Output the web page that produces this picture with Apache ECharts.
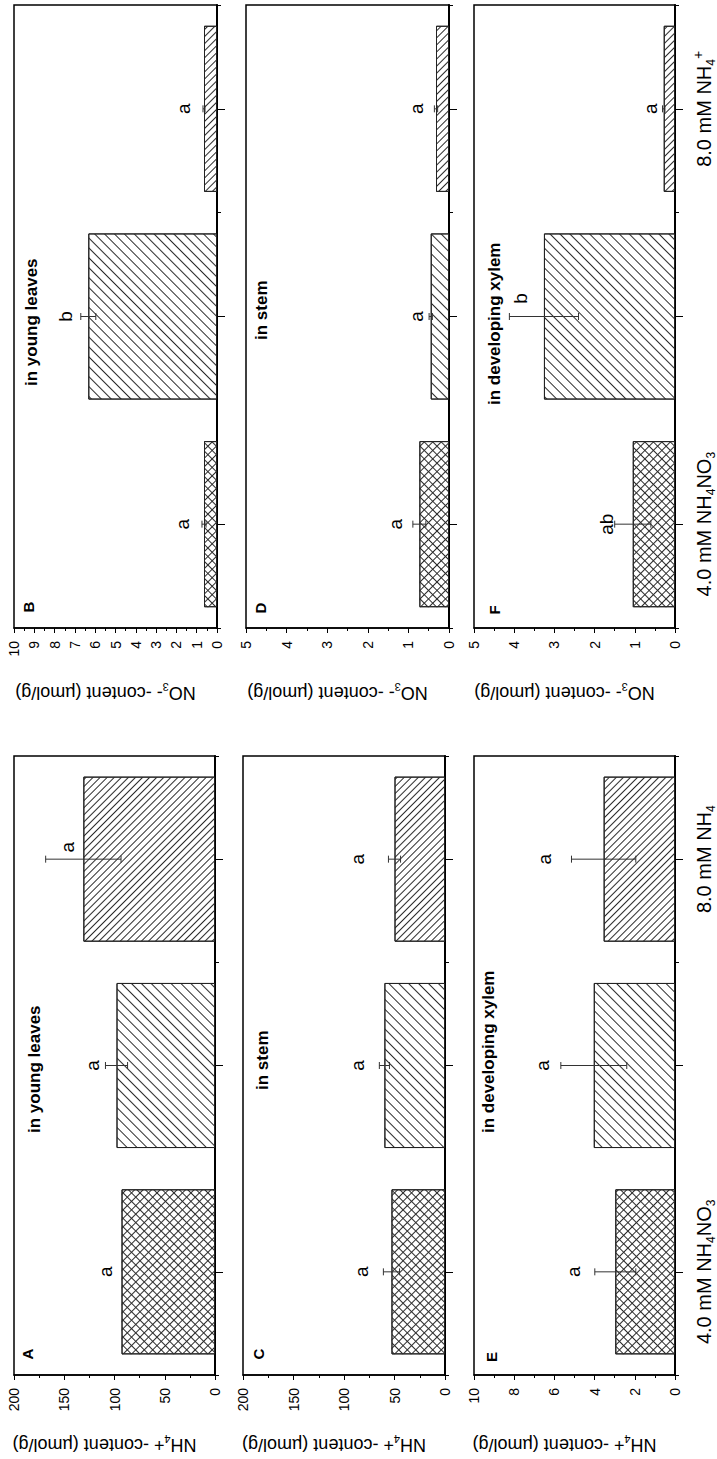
<!DOCTYPE html>
<html>
<head>
<meta charset="utf-8">
<script src="https://cdn.jsdelivr.net/npm/echarts@6/dist/echarts.min.js"></script>
<style>
  html, body { margin: 0; padding: 0; background: #fff; }
  #chart { width: 717px; height: 1459px; }
</style>
</head>
<body>
<div id="chart"></div>
<script>
// ---- data ----------------------------------------------------------------
const treatments = ['4.0 mM NH4NO3', '8.0 mM NO3-', '8.0 mM NH4+'];

// NO3- content (µmol/g)
const no3Leaves    = [0.64, 6.34, 0.64];
const no3LeavesErr = [0.10, 0.37, 0.05];
const no3Stem      = [0.73, 0.45, 0.32];
const no3StemErr   = [0.16, 0.04, 0.04];
const no3Xylem     = [1.05, 3.26, 0.28];
const no3XylemErr  = [0.45, 0.86, 0.03];

// NH4+ content (µmol/g)
const nh4Leaves    = [93, 98, 131];
const nh4LeavesErr = [0, 11, 37.5];
const nh4Stem      = [53, 60, 50];
const nh4StemErr   = [8, 5, 6];
const nh4Xylem     = [2.97, 4.04, 3.55];
const nh4XylemErr  = [1.02, 1.64, 1.60];

// significance groups
const no3LeavesSig = ['a', 'b', 'a'];
const no3StemSig   = ['a', 'a', 'a'];
const no3XylemSig  = ['ab', 'b', 'a'];
const nh4LeavesSig = ['a', 'a', 'a'];
const nh4StemSig   = ['a', 'a', 'a'];
const nh4XylemSig  = ['a', 'a', 'a'];

// value axis ranges and tick steps
const no3AxisMax  = [10, 5, 5];
const no3AxisStep = [1, 1, 1];
const nh4AxisMax  = [200, 200, 10];
const nh4AxisStep = [50, 50, 2];

// treatment tick labels (rich text: s = subscript, p = superscript)
const no3TreatmentLabels = ['4.0 mM NH{s|4}NO{s|3}', '8.0 mM NO{s|3}{p|-}', '8.0 mM NH{s|4}{p|+}'];
const nh4TreatmentLabels = ['4.0 mM NH{s|4}NO{s|3}', '8.0 mM NO{s|3}', '8.0 mM NH{s|4}'];

// ---- look & layout -------------------------------------------------------
const FONT = '"Liberation Sans", Arial, Helvetica, sans-serif';
const INK = '#000';
const HATCH = '#2b2b2b';

function hatch(angle, period) {
  return {
    symbol: 'rect', symbolSize: 1,
    dashArrayX: [1, 0], dashArrayY: [1, period - 1],
    rotation: angle, color: HATCH
  };
}
const hatchNO3 = hatch(Math.PI / 4, 7);    // "\" lines
const hatchNH4 = hatch(-Math.PI / 4, 5);   // "/" lines
const crossOne = hatch(Math.PI / 4, 6);
const crossTwo = hatch(-Math.PI / 4, 6);
const barDecals = [crossOne, hatchNO3, hatchNH4];

const panels = [
  { grid: { left: 14,  top: 5,   width: 203, height: 623 }, values: no3Leaves, errs: no3LeavesErr, sig: no3LeavesSig,
    max: no3AxisMax[0], step: no3AxisStep[0], kind: 'no3', letter: 'B', title: 'in young leaves',
    titleAt: [31, 386], letterAt: [28, 607], sigAt: [[1.70, 0], [7.45, 0], [1.67, 0]], cats: false },
  { grid: { left: 246, top: 5,   width: 203, height: 623 }, values: no3Stem, errs: no3StemErr, sig: no3StemSig,
    max: no3AxisMax[1], step: no3AxisStep[1], kind: 'no3', letter: 'D', title: 'in stem',
    titleAt: [261, 340], letterAt: [260, 608], sigAt: [[1.33, 0], [0.81, 0], [0.81, 0]], cats: false },
  { grid: { left: 474, top: 5,   width: 204, height: 623 }, values: no3Xylem, errs: no3XylemErr, sig: no3XylemSig,
    max: no3AxisMax[2], step: no3AxisStep[2], kind: 'no3', letter: 'F', title: 'in developing xylem',
    titleAt: [494, 405], letterAt: [494, 610], sigAt: [[1.70, 0], [3.85, -18], [0.61, 0]], cats: true },
  { grid: { left: 14,  top: 756, width: 201, height: 619 }, values: nh4Leaves, errs: nh4LeavesErr, sig: nh4LeavesSig,
    max: nh4AxisMax[0], step: nh4AxisStep[0], kind: 'nh4', letter: 'A', title: 'in young leaves',
    titleAt: [34, 1133], letterAt: [27, 1354], sigAt: [[109, 0], [122, 0], [147, -12]], cats: false },
  { grid: { left: 243, top: 756, width: 202, height: 619 }, values: nh4Stem, errs: nh4StemErr, sig: nh4StemSig,
    max: nh4AxisMax[1], step: nh4AxisStep[1], kind: 'nh4', letter: 'C', title: 'in stem',
    titleAt: [262, 1090], letterAt: [258, 1354], sigAt: [[83, 0], [87, 0], [87, 0]], cats: false },
  { grid: { left: 474, top: 756, width: 203, height: 619 }, values: nh4Xylem, errs: nh4XylemErr, sig: nh4XylemSig,
    max: nh4AxisMax[2], step: nh4AxisStep[2], kind: 'nh4', letter: 'E', title: 'in developing xylem',
    titleAt: [488, 1133], letterAt: [491, 1357], sigAt: [[5.07, 0], [6.60, 0], [6.50, 0]], cats: true }
];

const axisNames = {
  no3: 'NO{s|3}- -content (µmol/g)',
  nh4: 'NH{s|4}+ -content (µmol/g)'
};

const grids = [], xAxes = [], yAxes = [], series = [], graphics = [];

panels.forEach((p, i) => {
  grids.push(Object.assign({ show: true, borderColor: INK, borderWidth: 1.5, backgroundColor: 'transparent' }, p.grid));

  // value axis (runs leftwards from zero)
  xAxes.push({
    gridIndex: i, type: 'value', position: 'bottom', inverse: true,
    min: 0, max: p.max, interval: p.step,
    axisLine: { show: true, onZero: false, lineStyle: { color: INK, width: 1.5 } },
    axisTick: { show: true, inside: false, length: 5, lineStyle: { color: INK, width: 1 } },
    minorTick: { show: true, splitNumber: 2, length: 3, lineStyle: { color: INK, width: 1 } },
    splitLine: { show: false }, minorSplitLine: { show: false },
    axisLabel: { rotate: 90, margin: 13, fontSize: 14, color: INK, fontFamily: FONT },
    name: axisNames[p.kind], nameLocation: 'middle', nameRotate: 180,
    nameGap: p.kind === 'no3' ? 65 : 70,
    nameTextStyle: {
      fontSize: 18, color: INK, fontFamily: FONT, align: 'center', verticalAlign: 'middle',
      lineHeight: 24, padding: [0, 0, 0, 20],
      rich: { s: { fontSize: 11, lineHeight: 8, verticalAlign: 'bottom', color: INK, fontFamily: FONT } }
    }
  });

  // treatment axis with boundary ticks and labels
  const labels = p.kind === 'no3' ? no3TreatmentLabels : nh4TreatmentLabels;
  yAxes.push({
    gridIndex: i, type: 'category', position: 'right', data: treatments,
    axisLine: { show: true, lineStyle: { color: INK, width: 2 } },
    axisTick: { show: true, inside: false, length: 4, alignWithLabel: false, lineStyle: { color: INK, width: 1 } },
    splitLine: { show: false },
    axisLabel: {
      show: p.cats, rotate: 90, margin: 16, fontSize: 20, lineHeight: 26, color: INK, fontFamily: FONT,
      formatter: (v, idx) => labels[idx],
      rich: {
        s: { fontSize: 12, lineHeight: 10, verticalAlign: 'bottom', color: INK, fontFamily: FONT },
        p: { fontSize: 14, lineHeight: 12, verticalAlign: 'top', color: INK, fontFamily: FONT }
      }
    }
  });
  // same axis again, for the centred ticks
  yAxes.push({
    gridIndex: i, type: 'category', position: 'right', data: treatments,
    axisLine: { show: false },
    axisTick: { show: true, inside: false, length: 8, alignWithLabel: true, lineStyle: { color: INK, width: 1 } },
    axisLabel: { show: false }, splitLine: { show: false }
  });

  const xi = i, yi = 2 * i;

  series.push({
    type: 'bar', xAxisIndex: xi, yAxisIndex: yi, barWidth: '80%', silent: true, z: 2,
    itemStyle: { borderColor: '#222', borderWidth: 1 },
    data: p.values.map((v, k) => ({ value: v, itemStyle: { color: '#fff', decal: barDecals[k] } }))
  });
  // second diagonal of the cross-hatched bar
  series.push({
    type: 'bar', xAxisIndex: xi, yAxisIndex: yi, barWidth: '80%', barGap: '-100%', silent: true, z: 3,
    itemStyle: { borderWidth: 0 },
    data: p.values.map((v, k) => k === 0 ? { value: v, itemStyle: { color: 'rgba(0,0,0,0)', decal: crossTwo } } : '-')
  });

  // error bars
  series.push({
    type: 'custom', xAxisIndex: xi, yAxisIndex: yi, silent: true, z: 6,
    encode: { y: 0, x: [1, 2] },
    data: p.values.map((v, k) => [k, v - p.errs[k], v + p.errs[k]]),
    renderItem: (params, api) => {
      const c = api.value(0), lo = api.value(1), hi = api.value(2);
      if (!(hi > lo)) return;
      const a = api.coord([lo, c]), b = api.coord([hi, c]);
      const h = 3.5, st = { stroke: '#333', lineWidth: 1 };
      return {
        type: 'group', children: [
          { type: 'line', shape: { x1: a[0], y1: a[1], x2: b[0], y2: b[1] }, style: st },
          { type: 'line', shape: { x1: a[0], y1: a[1] - h, x2: a[0], y2: a[1] + h }, style: st },
          { type: 'line', shape: { x1: b[0], y1: b[1] - h, x2: b[0], y2: b[1] + h }, style: st }
        ]
      };
    }
  });

  // significance letters
  series.push({
    type: 'custom', xAxisIndex: xi, yAxisIndex: yi, silent: true, z: 7,
    encode: { y: 0, x: 1 },
    data: p.sigAt.map((s, k) => [k, s[0], s[1]]),
    renderItem: (params, api) => {
      const pt = api.coord([api.value(1), api.value(0)]);
      return {
        type: 'text', x: pt[0], y: pt[1] + api.value(2), rotation: Math.PI / 2,
        style: { text: p.sig[params.dataIndex], fontSize: 19, fontFamily: FONT, fill: INK,
                 align: 'center', verticalAlign: 'middle' }
      };
    }
  });

  // panel letter and tissue title
  graphics.push({
    type: 'text', x: p.letterAt[0], y: p.letterAt[1], rotation: Math.PI / 2, z: 100, silent: true,
    style: { text: p.letter, fontSize: 15, fontWeight: 'bold', fontFamily: FONT, fill: INK, align: 'center', verticalAlign: 'middle' }
  });
  graphics.push({
    type: 'text', x: p.titleAt[0], y: p.titleAt[1], rotation: Math.PI / 2, z: 100, silent: true,
    style: { text: p.title, fontSize: 17, fontWeight: 'bold', fontFamily: FONT, fill: INK, align: 'left', verticalAlign: 'middle' }
  });
});

const chart = echarts.init(document.getElementById('chart'), null, { renderer: 'svg' });
chart.setOption({
  animation: false,
  backgroundColor: '#fff',
  textStyle: { fontFamily: FONT },
  grid: grids,
  xAxis: xAxes,
  yAxis: yAxes,
  series: series,
  graphic: graphics
});
</script>
</body>
</html>
